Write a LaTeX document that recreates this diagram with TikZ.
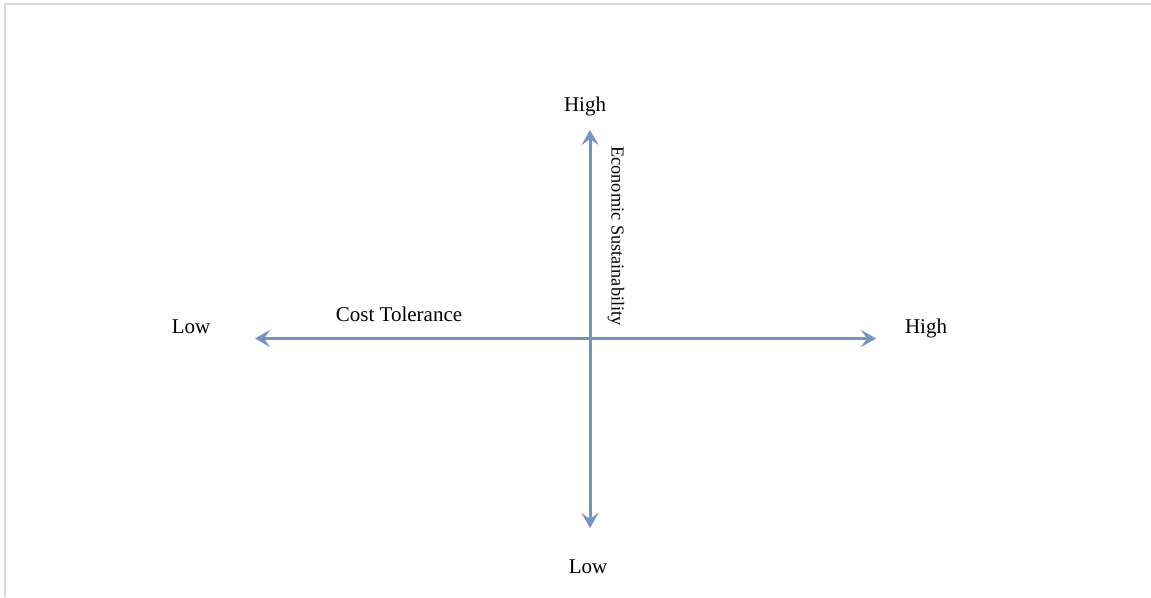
\documentclass[tikz,border=0pt]{standalone}
\usepackage{fontspec}
\setmainfont{Liberation Serif}
\usetikzlibrary{arrows.meta}
\definecolor{axisblue}{RGB}{114,147,196}
\definecolor{framegrey}{RGB}{217,217,217}
\begin{document}
\begin{tikzpicture}[x=1pt,y=-1pt,
  axis/.style={draw=axisblue,line width=3pt,
    {Stealth[length=15pt,width=17pt,inset=6pt]}-{Stealth[length=15pt,width=17pt,inset=6pt]}},
  lbl/.style={font=\fontsize{21}{25}\selectfont,inner sep=0pt,anchor=base},
  vlbl/.style={font=\fontsize{18.3}{22}\selectfont,inner sep=0pt,anchor=mid,rotate=-90}]
\useasboundingbox (0,0) rectangle (1151,597);
\draw[framegrey,line width=2pt] (5,597) -- (5,3.5) -- (1151,3.5);
\coordinate (L) at (255,338.5);
\coordinate (R) at (876,338.5);
\coordinate (T) at (590,130);
\coordinate (B) at (590,528);
\draw[axis] (L) -- (R);
\draw[axis] (T) -- (B);
\node[lbl] (hightop) at (585,111.5) {High};
\node[lbl] (lowbot) at (588,573) {Low};
\node[lbl] (lowleft) at (191,333) {Low};
\node[lbl] (highright) at (926,333) {High};
\node[lbl] (cost) at (399,321.5) {Cost Tolerance};
\node[vlbl] (econ) at (614,236) {Economic Sustainability};
\end{tikzpicture}
\end{document}
